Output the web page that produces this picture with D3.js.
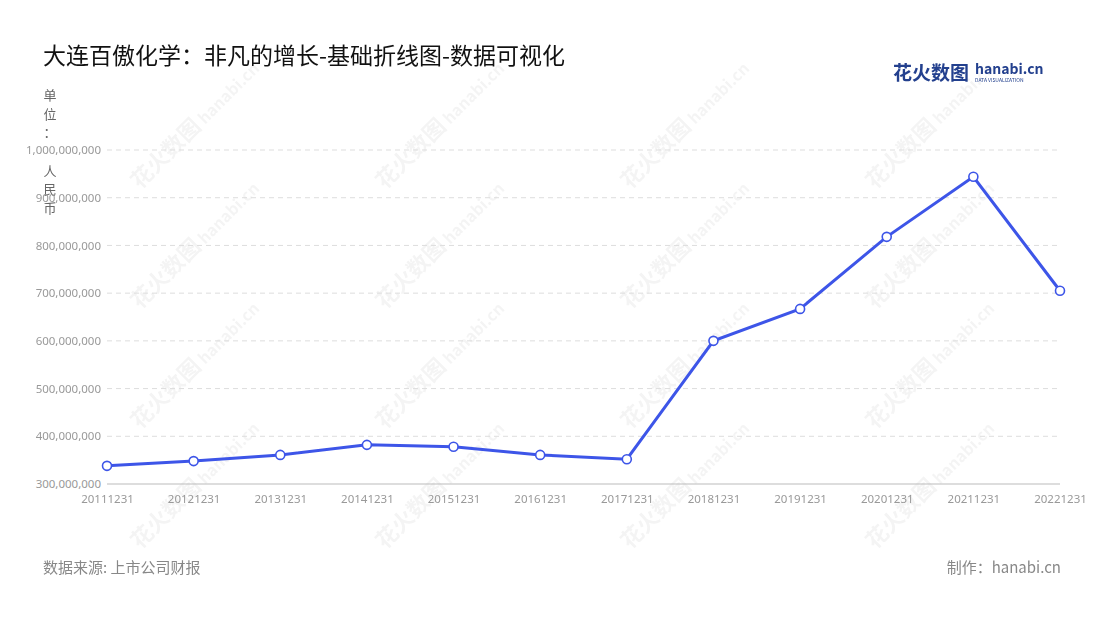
<!DOCTYPE html>
<html><head><meta charset="utf-8">
<script src="https://cdn.jsdelivr.net/npm/d3@7"></script>
<style>body{margin:0;background:#fff;font-family:"Noto Sans CJK SC","Noto Sans",sans-serif}</style>
</head><body><svg id="c" width="1100" height="620"></svg>
<script>
const years = ["20111231","20121231","20131231","20141231","20151231","20161231","20171231","20181231","20191231","20201231","20211231","20221231"];
const values = [338e6,348e6,361e6,382e6,378e6,361e6,352e6,600e6,667e6,818e6,944e6,705e6];
const yTicks = [300e6,400e6,500e6,600e6,700e6,800e6,900e6,1000e6];

const svg = d3.select("#c");
const x = d3.scalePoint().domain(years).range([107, 1060]);
const y = d3.scaleLinear().domain([300e6, 1000e6]).range([484, 150]);

// watermark
const wm = svg.append("g").attr("fill", "#000").attr("opacity", 0.045);
for (let i = 0; i < 4; i++) for (let j = 0; j < 4; j++) {
  const g = wm.append("g").attr("transform", `translate(${140 + i*245},${190 + j*120}) rotate(-45)`);
  g.append("text").attr("font-size", 22).attr("font-weight", "bold").text("花火数图");
  g.append("text").attr("x", 92).attr("font-size", 16).attr("font-weight", "bold").text("hanabi.cn");
}

svg.append("text").attr("x", 43).attr("y", 64).attr("font-size", 23).attr("fill", "#111")
  .text("大连百傲化学：非凡的增长-基础折线图-数据可视化");

// logo
svg.append("text").attr("x", 893).attr("y", 80).attr("font-size", 19).attr("font-weight", "bold").attr("fill", "#23408e").text("花火数图");
svg.append("text").attr("x", 975).attr("y", 74).attr("font-size", 14).attr("font-weight", "bold").attr("fill", "#23408e").text("hanabi.cn");
svg.append("text").attr("x", 975).attr("y", 82).attr("font-size", 5).attr("fill", "#23408e").text("DATA VISUALIZATION");

// unit label
["单","位","：","人","民","币"].forEach((ch, i) => {
  svg.append("text").attr("x", 50).attr("y", 100 + i*18.6 + (i > 2 ? 20 : 0)).attr("text-anchor", "middle")
    .attr("font-size", 13).attr("fill", "#666").text(ch);
});

// grid
svg.append("g").selectAll("line").data(yTicks.slice(1)).join("line")
  .attr("x1", 107).attr("x2", 1060).attr("y1", d => y(d)).attr("y2", d => y(d))
  .attr("stroke", "#ddd").attr("stroke-dasharray", "5,4");

const ya = svg.append("g").attr("transform", "translate(107,0)")
  .call(d3.axisLeft(y).tickValues(yTicks).tickFormat(d3.format(",")).tickSize(0).tickPadding(6));
ya.select(".domain").remove();
ya.selectAll("text").attr("fill", "#999").attr("font-size", 11.5).attr("font-family", "Noto Sans");

const xa = svg.append("g").attr("transform", "translate(0,484)")
  .call(d3.axisBottom(x).tickSize(0).tickPadding(11));
xa.select(".domain").attr("stroke", "#bbb").attr("d", "M107,0H1060");
xa.selectAll("text").attr("fill", "#999").attr("font-size", 11.5).attr("font-family", "Noto Sans");

svg.append("path").datum(values)
  .attr("d", d3.line().x((d, i) => x(years[i])).y(d => y(d)))
  .attr("fill", "none").attr("stroke", "#3d55e8").attr("stroke-width", 3);
svg.append("g").selectAll("circle").data(values).join("circle")
  .attr("cx", (d, i) => x(years[i])).attr("cy", d => y(d)).attr("r", 4.5)
  .attr("fill", "#fff").attr("stroke", "#3d55e8").attr("stroke-width", 1.6);

svg.append("text").attr("x", 43).attr("y", 573).attr("font-size", 15).attr("fill", "#888").text("数据来源: 上市公司财报");
svg.append("text").attr("x", 1061).attr("y", 573).attr("text-anchor", "end").attr("font-size", 15).attr("fill", "#888").text("制作：hanabi.cn");
</script></body></html>
